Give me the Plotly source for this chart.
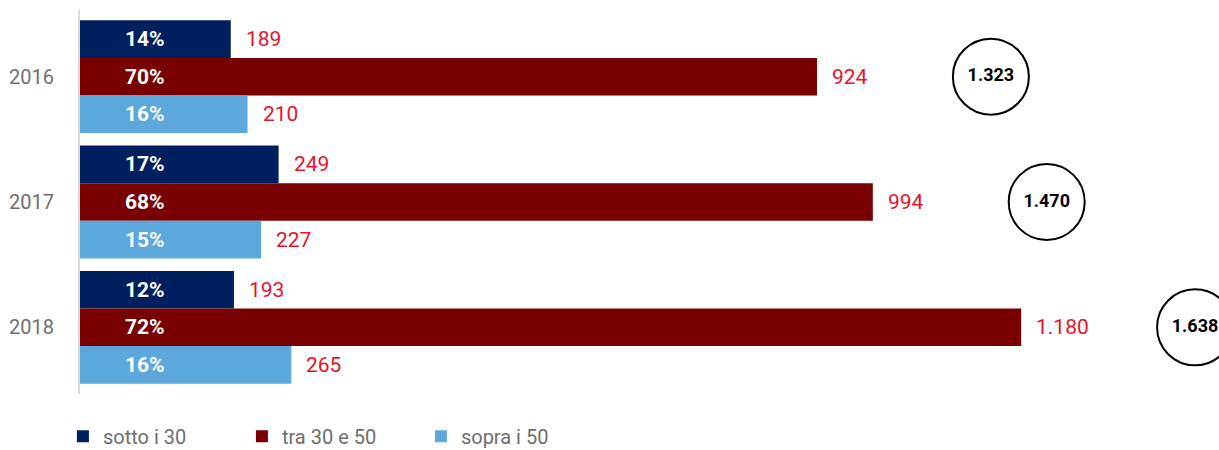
import plotly.graph_objects as go

anni = ["2016", "2017", "2018"]
sotto_30 = [189, 249, 193]
tra_30_50 = [924, 994, 1180]
sopra_50 = [210, 227, 265]
perc_sotto = ["14%", "17%", "12%"]
perc_tra = ["70%", "68%", "72%"]
perc_sopra = ["16%", "15%", "16%"]
totali = [1323, 1470, 1638]

serie = [
    ("sotto i 30", sotto_30, perc_sotto, "#001f5f"),
    ("tra 30 e 50", tra_30_50, perc_tra, "#780000"),
    ("sopra i 50", sopra_50, perc_sopra, "#5ca8dc"),
]


def it(n):
    return f"{n:,}".replace(",", ".")


fig = go.Figure()
for nome, valori, perc, colore in serie:
    fig.add_trace(go.Bar(
        y=anni, x=valori, name=nome, orientation="h",
        marker=dict(color=colore, line=dict(width=0)),
        hoverinfo="skip",
    ))

# etichette: percentuali dentro, valori fuori
annotations = []
for k, (nome, valori, perc, colore) in enumerate(serie):
    off = (k - 1) * 0.3
    for i in range(len(anni)):
        annotations.append(dict(
            x=0, y=i + off, xref="x", yref="y", text=f"<b>{perc[i]}</b>",
            showarrow=False, xanchor="left", xshift=43,
            font=dict(family="Roboto", size=21, color="white"),
        ))
        annotations.append(dict(
            x=valori[i], y=i + off, xref="x", yref="y", text=it(valori[i]),
            showarrow=False, xanchor="left", xshift=13,
            font=dict(family="Roboto", size=21, color="#e8112d"),
        ))

# cerchi con i totali, a destra della barra più lunga
fig.add_trace(go.Scatter(
    x=[v + 218 for v in tra_30_50], y=anni, mode="markers+text",
    text=[f"<b>{it(t)}</b>" for t in totali], textposition="middle center",
    textfont=dict(family="Roboto", size=18, color="black"),
    marker=dict(size=76, color="white", line=dict(color="black", width=2)),
    showlegend=False, cliponaxis=False, hoverinfo="skip",
))

fig.update_layout(
    width=1219, height=450,
    margin=dict(l=80, r=0, t=10, b=56, autoexpand=False),
    barmode="group", bargap=0.1, bargroupgap=0,
    plot_bgcolor="white", paper_bgcolor="white",
    font=dict(family="Roboto", color="#6e6e6e"),
    annotations=annotations,
    xaxis=dict(range=[0, 1428], visible=False, showgrid=False, zeroline=False),
    yaxis=dict(autorange="reversed", showline=True, linecolor="#d9d9d9", linewidth=2,
               showgrid=False, ticklabelstandoff=20,
               tickfont=dict(family="Roboto", size=20, color="#6e6e6e")),
    legend=dict(orientation="h", x=-0.015, xanchor="left", y=-0.11, yanchor="middle",
                entrywidth=134, font=dict(family="Roboto", size=20, color="#6e6e6e"),
                traceorder="normal"),
)

fig.write_html("out.html", config={"displayModeBar": False},
               post_script="document.body.style.margin='0';")
